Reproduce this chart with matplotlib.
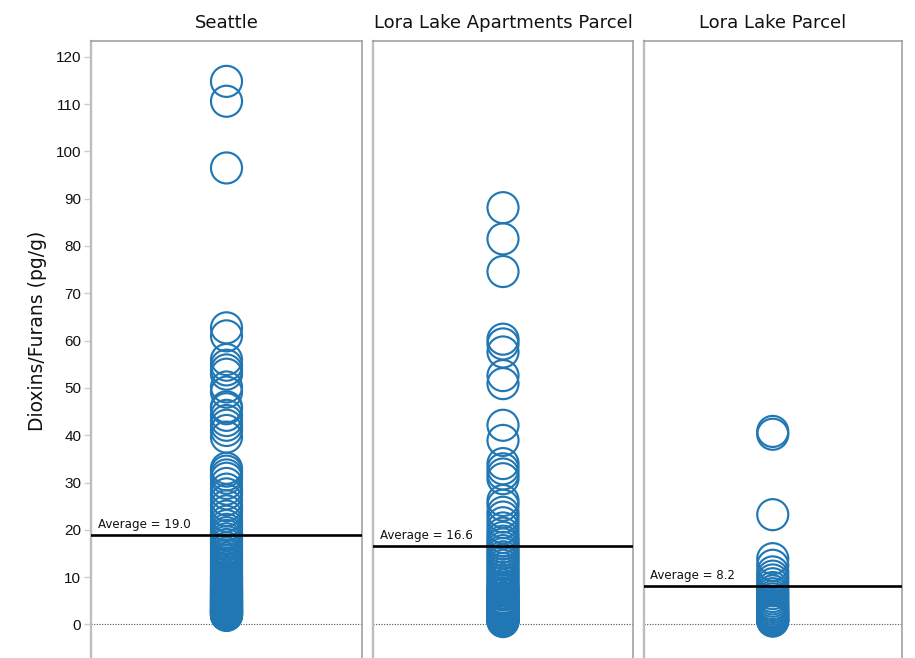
import matplotlib
matplotlib.use("Agg")
import matplotlib.pyplot as plt
import matplotlib.transforms as mtransforms

# Sample concentrations of dioxins/furans (pg/g) by area
panel_titles = ["Seattle", "Lora Lake Apartments Parcel", "Lora Lake Parcel"]

seattle = [
    114.8, 110.6, 96.5, 62.7, 61.0, 56.0, 54.8, 53.8, 52.9, 50.2, 49.1,
    46.0, 45.6, 44.2, 43.1, 42.1, 41.0, 39.6,
    33.0, 32.4, 31.6, 30.9, 29.8, 28.6, 27.6, 26.3, 25.1, 24.0, 22.9,
    21.8, 20.9, 20.1, 19.4,
    18.8, 18.1, 17.5, 16.9, 16.2, 15.7, 15.1, 14.6, 14.0, 13.5, 13.0,
    12.6, 12.1, 11.7, 11.2, 10.8, 10.3, 9.9, 9.5, 9.1, 8.7, 8.3, 7.9,
    7.6, 7.2, 6.9, 6.5, 6.2, 5.9, 5.6, 5.3, 5.0, 4.7, 4.5, 4.2, 4.0,
    3.7, 3.5, 3.3, 3.1, 2.9, 2.7, 2.5, 2.3, 2.1, 1.9,
    9.8, 8.8, 8.1, 7.4, 6.7, 6.0, 5.4, 4.9, 4.4, 3.9, 3.4, 3.0, 2.6,
    2.2, 2.0, 6.3, 5.2, 4.1, 3.2, 2.4, 7.0, 5.7, 4.6, 3.6, 2.8,
]

lora_lake_apartments = [
    88.1, 81.5, 74.6, 60.3, 59.3, 57.6, 52.6, 50.9, 42.1, 38.9,
    34.0, 32.9, 31.8, 30.8, 26.2, 25.2, 23.7, 22.7,
    21.5, 20.4, 19.3, 18.4, 17.6, 17.0,
    16.3, 15.6, 15.0, 14.3, 13.7, 13.1, 12.5, 11.8, 11.2, 10.6, 10.0,
    9.4, 8.9, 8.3, 7.8, 7.2, 6.7, 6.2, 5.7, 5.3, 4.9, 4.5, 4.1, 3.7,
    3.3, 3.0, 2.7, 2.4, 2.1, 1.8, 1.5, 1.2, 0.9, 0.6,
    7.5, 6.4, 5.5, 4.7, 4.3, 3.9, 3.5, 3.1, 2.8, 2.5, 2.2, 1.9, 1.6,
    1.3, 1.0, 0.8, 5.0, 4.0, 2.0, 1.1,
]

lora_lake_parcel = [
    40.8, 40.2, 23.2, 13.9, 12.5, 11.1, 10.2, 9.4, 8.6, 7.8, 7.1, 6.5,
    5.9, 5.4, 4.9, 4.4, 4.0, 3.6, 3.2, 2.8, 2.5, 2.2, 1.9, 1.6, 1.3,
    1.0, 0.8, 0.7,
]

averages = [19.0, 16.6, 8.2]
yticks = list(range(0, 121, 10))

series = [seattle, lora_lake_apartments, lora_lake_parcel]

W, H = 915, 658
fig = plt.figure(figsize=(W / 100, H / 100), dpi=100)

# panel extents in pixels (left, right)
panel_px = [(91, 362), (373, 633), (643.5, 902)]
top_px = 40.7
ymin, ymax = -7.1, 123.4

frame_color = "#9a9a9a"
marker_color = "#2077b4"

for i, (title, vals, avg) in enumerate(zip(panel_titles, series, averages)):
    x0, x1 = panel_px[i]
    ax = fig.add_axes([x0 / W, 0.0, (x1 - x0) / W, (H - top_px) / H])
    ax.set_xlim(-1, 1)
    ax.set_ylim(ymin, ymax)

    for side in ("top", "right"):
        ax.spines[side].set_color(frame_color)
        ax.spines[side].set_linewidth(1.1)
    ax.spines["left"].set_linewidth(1.7)
    ax.spines["left"].set_color("#bdbdbd")
    ax.spines["bottom"].set_visible(False)

    ax.set_xticks([])
    if i == 0:
        ax.set_yticks(yticks)
        ax.tick_params(axis="y", length=5, width=1.0, color="#cccccc",
                       labelsize=11, labelcolor="#111111", pad=2)
        for lbl in ax.get_yticklabels():
            lbl.set_fontfamily("Liberation Sans")
    else:
        ax.set_yticks([])

    # zero reference line
    ax.axhline(0, color="#555555", lw=0.8, ls=(0, (1, 1.4)), zorder=1)

    ax.scatter([0] * len(vals), vals, s=500, facecolors="none",
               edgecolors=marker_color, linewidths=1.55, zorder=2)

    # average line with label
    ax.axhline(avg, color="black", lw=1.9, zorder=3)
    trans = mtransforms.blended_transform_factory(ax.transAxes, ax.transData)
    ax.annotate(f"Average = {avg:.1f}", xy=(0, avg), xycoords=trans,
                xytext=(7, 4), textcoords="offset pixels",
                fontsize=8.6, color="#111111", ha="left", va="bottom",
                fontfamily="DejaVu Sans", zorder=4)

    ax.set_title(title, fontsize=13, color="#111111", pad=9,
                 fontfamily="DejaVu Sans")

fig.text(38 / W, 1 - 331 / H, "Dioxins/Furans (pg/g)", rotation=90,
         ha="center", va="center", fontsize=13.5, color="#111111",
         fontfamily="DejaVu Sans")

fig.savefig("out.png", dpi=100)
